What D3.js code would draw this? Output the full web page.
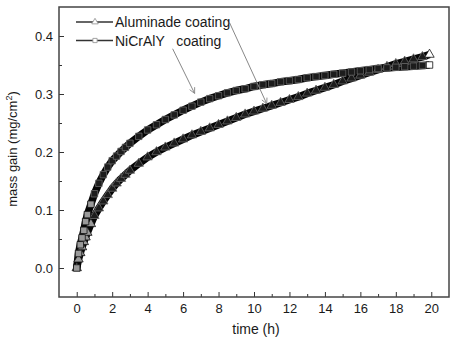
<!DOCTYPE html>
<html>
<head>
<meta charset="utf-8">
<script src="https://cdn.jsdelivr.net/npm/d3@7"></script>
<style>
  html, body { margin: 0; padding: 0; background: #fff; }
  svg { display: block; }
  text { font-family: "Liberation Sans", Arial, sans-serif; fill: #1a1a1a; }
</style>
</head>
<body>
<svg id="chart" width="454" height="339"></svg>
<script>
// ---- data ----
const timeH = [0, 0.1, 0.2, 0.3, 0.4, 0.5, 0.6, 0.8, 1.0, 1.25, 1.5, 1.75, 2.0, 2.25, 2.5, 2.75, 3.0,
  3.5, 4.0, 4.5, 5.0, 5.5, 6.0, 6.5, 7.0, 7.5, 8.0, 8.5, 9.0, 9.5, 10, 10.5, 11, 11.5, 12, 12.5,
  13, 13.5, 14, 14.5, 15, 15.5, 16, 16.5, 17, 17.5, 18, 18.5, 19, 19.5, 19.9];
const aluminade = [0, 0.015, 0.026, 0.036, 0.045, 0.053, 0.061, 0.076, 0.09, 0.103, 0.115, 0.126, 0.137,
  0.146, 0.154, 0.161, 0.168, 0.18, 0.191, 0.2, 0.208, 0.215, 0.222, 0.229, 0.235, 0.241, 0.247, 0.253,
  0.259, 0.265, 0.27, 0.275, 0.28, 0.285, 0.29, 0.295, 0.301, 0.306, 0.311, 0.316, 0.322, 0.327, 0.332,
  0.337, 0.342, 0.347, 0.352, 0.356, 0.36, 0.364, 0.368];
const nicraly = [0, 0.025, 0.04, 0.052, 0.065, 0.08, 0.092, 0.11, 0.128, 0.146, 0.161, 0.174, 0.185,
  0.193, 0.201, 0.208, 0.215, 0.227, 0.238, 0.247, 0.256, 0.264, 0.272, 0.279, 0.286, 0.292, 0.297,
  0.302, 0.306, 0.309, 0.313, 0.316, 0.318, 0.321, 0.323, 0.325, 0.328, 0.330, 0.332, 0.334, 0.336,
  0.338, 0.340, 0.342, 0.344, 0.345, 0.346, 0.347, 0.348, 0.349, 0.350];
const seriesNames = ["Aluminade coating", "NiCrAlY   coating"];
const xTicks = [0, 2, 4, 6, 8, 10, 12, 14, 16, 18, 20];
const xMinorTicks = [1, 3, 5, 7, 9, 11, 13, 15, 17, 19];
const yTicks = [0.0, 0.1, 0.2, 0.3, 0.4];
const yMinorTicks = [0.05, 0.15, 0.25, 0.35];
// annotation arrows: [fromTime, fromValue, toTime, toValue]
const arrowNi = [5.41, 0.378, 6.65, 0.301];
const arrowAl = [8.62, 0.423, 10.72, 0.283];

// ---- layout ----
const svg = d3.select("#chart");
const pLeft = 59, pRight = 449, pTop = 7, pBottom = 297;
const x = d3.scaleLinear().domain([-1, 21]).range([pLeft, pRight]);
const y = d3.scaleLinear().domain([-0.05, 0.45]).range([pBottom, pTop]);

// defs: arrowhead
svg.append("defs").append("marker")
  .attr("id", "arrowhead").attr("viewBox", "0 0 10 10")
  .attr("refX", 9).attr("refY", 5)
  .attr("markerWidth", 7).attr("markerHeight", 7)
  .attr("markerUnits", "userSpaceOnUse")
  .attr("orient", "auto")
  .append("path").attr("d", "M1,1 L9,5 L1,9")
  .attr("fill", "none").attr("stroke", "#888").attr("stroke-width", 1.2);

// axes
const axisColor = "#333";
const gx = svg.append("g").attr("transform", `translate(0,${pBottom})`)
  .call(d3.axisBottom(x).tickValues(xTicks).tickFormat(d3.format("d"))
    .tickSizeInner(-5).tickSizeOuter(0).tickPadding(7));
const gxm = svg.append("g").attr("transform", `translate(0,${pBottom})`)
  .call(d3.axisBottom(x).tickValues(xMinorTicks).tickFormat("")
    .tickSizeInner(-3).tickSizeOuter(0));
const gy = svg.append("g").attr("transform", `translate(${pLeft},0)`)
  .call(d3.axisLeft(y).tickValues(yTicks).tickFormat(d3.format(".1f"))
    .tickSizeInner(-5).tickSizeOuter(0).tickPadding(6));
const gym = svg.append("g").attr("transform", `translate(${pLeft},0)`)
  .call(d3.axisLeft(y).tickValues(yMinorTicks).tickFormat("")
    .tickSizeInner(-3).tickSizeOuter(0));
[gx, gxm, gy, gym].forEach(g => {
  g.select(".domain").remove();
  g.selectAll(".tick line").attr("stroke", axisColor).attr("stroke-width", 1);
  g.selectAll(".tick text").style("font-size", "13px").attr("fill", "#1a1a1a")
    .style("font-family", "'Liberation Sans', Arial, sans-serif");
});

// frame
svg.append("rect").attr("x", pLeft).attr("y", pTop)
  .attr("width", pRight - pLeft).attr("height", pBottom - pTop)
  .attr("fill", "none").attr("stroke", "#444").attr("stroke-width", 1.5);

// axis titles
svg.append("text").attr("x", (pLeft + pRight) / 2 + 2).attr("y", 334)
  .attr("text-anchor", "middle").style("font-size", "14px").text("time (h)");
const yt = svg.append("text")
  .attr("transform", `translate(17,149) rotate(-90)`)
  .attr("text-anchor", "middle").style("font-size", "13px");
yt.append("tspan").text("mass gain (mg/cm");
yt.append("tspan").attr("dy", -5).style("font-size", "9px").text("2");
yt.append("tspan").attr("dy", 5).text(")");

// series
const series = [
  { name: seriesNames[0], values: aluminade, symbol: d3.symbolTriangle, size: 38 },
  { name: seriesNames[1], values: nicraly, symbol: d3.symbolSquare, size: 42 }
];
const line = d3.line().x((d, i) => x(timeH[i])).y(d => y(d));
const plot = svg.append("g");
series.forEach(s => {
  plot.append("path").datum(s.values).attr("d", line)
    .attr("fill", "none").attr("stroke", "#050505").attr("stroke-width", 7.5)
    .attr("stroke-linejoin", "round");
});
series.forEach(s => {
  const n = s.values.length;
  plot.append("g").selectAll("path").data(s.values).join("path")
    .attr("transform", (d, i) => `translate(${x(timeH[i])},${y(d)})`)
    .attr("d", d3.symbol().type(s.symbol).size(s.size))
    .attr("fill", (d, i) => i === n - 1 ? "#fff" : (timeH[i] < 1 ? "#9a9a9a" : "#1c1c1c"))
    .attr("stroke", (d, i) => (i === n - 1 || timeH[i] < 1) ? "#111" : "#6a6a6a")
    .attr("stroke-width", 0.8);
});

// annotation arrows
[arrowNi, arrowAl].forEach(a => {
  svg.append("line")
    .attr("x1", x(a[0])).attr("y1", y(a[1]))
    .attr("x2", x(a[2])).attr("y2", y(a[3]))
    .attr("stroke", "#888").attr("stroke-width", 1)
    .attr("marker-end", "url(#arrowhead)");
});

// legend
const legend = svg.append("g");
series.forEach((s, i) => {
  const ly = 22 + i * 18.5;
  legend.append("line").attr("x1", 76).attr("x2", 113).attr("y1", ly).attr("y2", ly)
    .attr("stroke", "#333").attr("stroke-width", 1.3);
  legend.append("path").attr("transform", `translate(95,${ly})`)
    .attr("d", d3.symbol().type(s.symbol).size(18))
    .attr("fill", "#fff").attr("stroke", "#999").attr("stroke-width", 0.9);
  legend.append("text").attr("x", 115).attr("y", ly + 5)
    .style("font-size", "14px").style("white-space", "pre").text(s.name);
});
</script>
</body>
</html>
